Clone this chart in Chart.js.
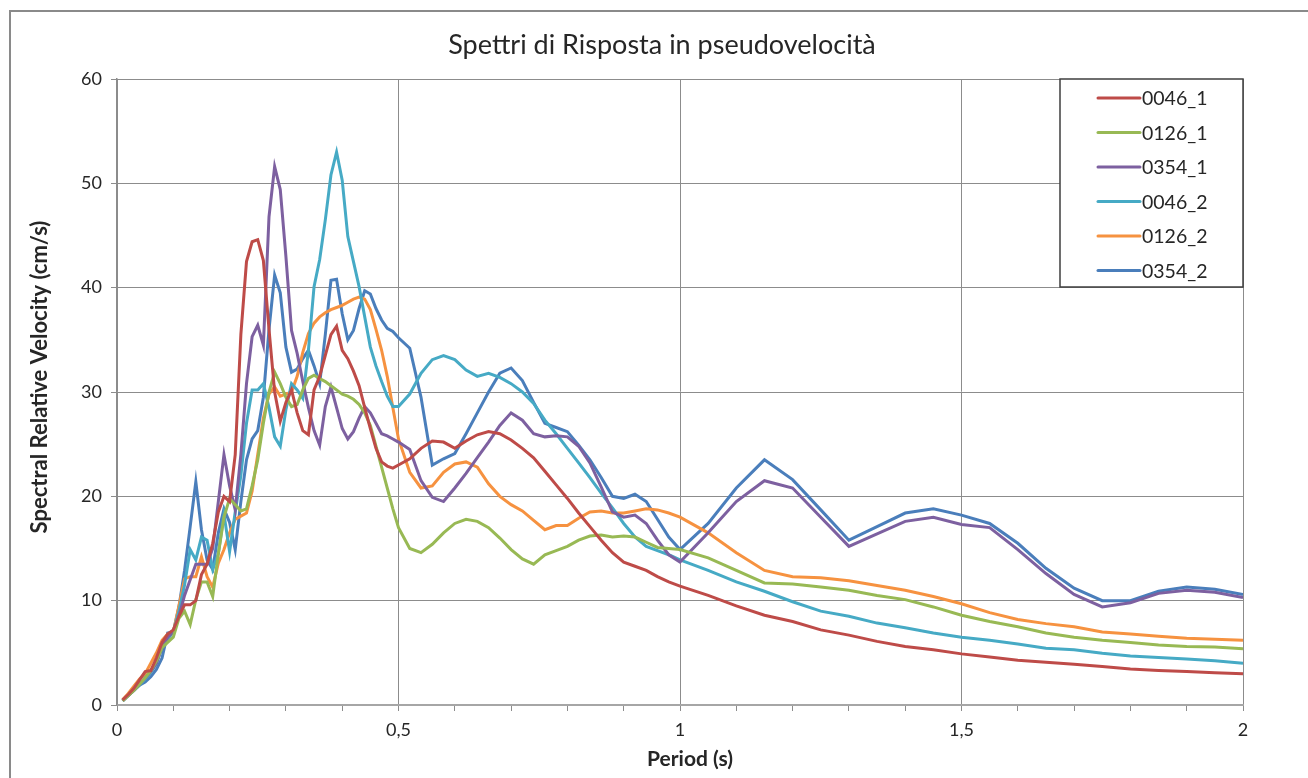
<!DOCTYPE html>
<html>
<head>
<meta charset="utf-8">
<title>Spettri di Risposta in pseudovelocità</title>
<script src="https://cdn.jsdelivr.net/npm/chart.js@4.4.1/dist/chart.umd.min.js"></script>
<style>
  html, body { margin: 0; padding: 0; background: #ffffff; overflow: hidden; }
  #wrap { position: relative; width: 1308px; height: 778px; }
  #frame { position: absolute; left: 9px; top: 10px; width: 1400px; height: 900px;
           border: 2px solid #8a8a8a; pointer-events: none; }
  canvas { display: block; }
</style>
</head>
<body>
<div id="wrap">
  <canvas id="chart" width="1308" height="778"></canvas>
  <div id="frame"></div>
</div>
<script>
// Chart title and axis titles
const chartTitle = 'Spettri di Risposta in pseudovelocità';
const xTitle = 'Period (s)';
const yTitle = 'Spectral Relative Velocity (cm/s)';

// Periods (s)
const periods = [
  0.01, 0.02, 0.03, 0.04, 0.05, 0.06, 0.07, 0.08, 0.09, 0.10,
  0.11, 0.12, 0.13, 0.14, 0.15, 0.16, 0.17, 0.18, 0.19, 0.20,
  0.21, 0.22, 0.23, 0.24, 0.25, 0.26, 0.27, 0.28, 0.29, 0.30,
  0.31, 0.32, 0.33, 0.34, 0.35, 0.36, 0.37, 0.38, 0.39, 0.40,
  0.41, 0.42, 0.43, 0.44, 0.45, 0.46, 0.47, 0.48, 0.49, 0.50,
  0.52, 0.54, 0.56, 0.58, 0.60, 0.62, 0.64, 0.66, 0.68, 0.70,
  0.72, 0.74, 0.76, 0.78, 0.80, 0.82, 0.84, 0.86, 0.88, 0.90,
  0.92, 0.94, 0.96, 0.98, 1.00,
  1.05, 1.10, 1.15, 1.20, 1.25, 1.30, 1.35, 1.40, 1.45, 1.50,
  1.55, 1.60, 1.65, 1.70, 1.75, 1.80, 1.85, 1.90, 1.95, 2.00
];

// Pseudo-velocity spectra (cm/s)
const sv0046_1 = [
  0.5, 1.0, 1.6, 2.4, 3.2, 3.3, 4.5, 6.0, 6.8, 7.2,
  8.5, 9.6, 9.6, 10.0, 12.5, 13.5, 15.5, 18.5, 20.0, 19.5,
  24.0, 35.5, 42.5, 44.4, 44.6, 42.6, 36.0, 30.0, 27.2, 29.0,
  30.2, 28.0, 26.3, 25.9, 30.2, 31.5, 33.5, 35.5, 36.3, 34.0,
  33.2, 32.0, 30.6, 28.5, 26.5, 24.6, 23.3, 22.9, 22.7, 23.0,
  23.6, 24.6, 25.3, 25.2, 24.6, 25.3, 25.9, 26.2, 26.0, 25.4,
  24.6, 23.7, 22.4, 21.1, 19.8, 18.4, 17.1, 15.8, 14.6, 13.7,
  13.3, 12.9, 12.3, 11.8, 11.4,
  10.5, 9.5, 8.6, 8.0, 7.2, 6.7, 6.1, 5.6, 5.3, 4.9,
  4.6, 4.3, 4.1, 3.9, 3.7, 3.45, 3.3, 3.2, 3.1, 3.0
];
const sv0126_1 = [
  0.4, 0.9, 1.4, 2.0, 2.6, 3.3, 4.2, 5.5, 6.0, 6.5,
  8.3, 9.0, 7.7, 10.1, 11.8, 11.8, 10.4, 14.5, 18.0, 19.8,
  19.2, 18.6, 18.8, 21.0, 23.5, 27.0, 30.0, 31.9, 30.8, 29.5,
  28.6, 28.8, 30.2, 31.3, 31.6, 31.3, 31.0, 30.6, 30.2, 29.8,
  29.6, 29.3, 28.8, 28.0, 26.8, 24.8, 22.8, 20.8, 18.8, 17.0,
  15.0, 14.6, 15.4, 16.5, 17.4, 17.8, 17.6, 17.0, 16.0, 14.9,
  14.0, 13.5, 14.4, 14.8, 15.2, 15.8, 16.2, 16.3, 16.1, 16.2,
  16.1, 15.6, 15.1, 15.0, 14.9,
  14.1, 12.9, 11.7, 11.6, 11.3, 11.0, 10.5, 10.1, 9.4, 8.6,
  8.0, 7.5, 6.9, 6.5, 6.2, 6.0, 5.75, 5.6, 5.55, 5.4
];
const sv0354_1 = [
  0.4, 0.9, 1.4, 2.0, 2.6, 3.2, 4.0, 5.5, 6.5, 7.0,
  8.5, 10.5, 12.0, 13.5, 13.5, 13.5, 15.0, 19.5, 24.0, 21.0,
  18.7, 24.0, 30.8, 35.3, 36.4, 34.5, 46.8, 51.6, 49.4, 43.0,
  35.9, 33.7, 31.0, 28.5, 26.3, 24.9, 28.6, 30.5, 28.5, 26.5,
  25.5, 26.2, 27.5, 28.6, 28.0, 27.0, 26.0, 25.8, 25.5, 25.2,
  24.5, 21.5, 19.9, 19.5, 20.8, 22.2, 23.7, 25.2, 26.8, 28.0,
  27.3, 26.0, 25.7, 25.8, 25.7, 24.8, 23.2, 20.9, 18.5, 18.0,
  18.2, 17.4, 15.8, 14.4, 13.7,
  16.5, 19.5, 21.5, 20.8, 18.0, 15.2, 16.4, 17.6, 18.0, 17.3,
  17.0, 14.9, 12.6, 10.6, 9.4, 9.8, 10.7, 11.0, 10.8, 10.3
];
const sv0046_2 = [
  0.4, 0.9, 1.4, 1.9, 2.5, 3.1, 4.0, 5.5, 6.3, 7.0,
  9.0, 11.5, 14.9, 13.9, 16.1, 15.8, 13.0, 14.5, 18.3, 14.7,
  18.5, 22.0, 27.0, 30.2, 30.2, 30.8, 28.5, 25.7, 24.8, 28.3,
  30.8, 30.2, 29.4, 34.0, 40.1, 42.7, 46.5, 50.8, 53.0, 50.3,
  44.9, 42.5, 40.1, 37.2, 34.3, 32.5, 31.0, 29.6, 28.6, 28.6,
  29.8, 31.8, 33.1, 33.5, 33.1, 32.1, 31.5, 31.8, 31.4, 30.8,
  30.0, 28.9, 27.3, 26.0, 24.6, 23.2, 21.8, 20.3, 18.9, 17.4,
  16.1, 15.2, 14.8, 14.4, 13.9,
  12.9, 11.8, 10.9, 9.9, 9.0, 8.5, 7.85, 7.4, 6.9, 6.5,
  6.2, 5.85, 5.45, 5.3, 4.95, 4.7, 4.55, 4.4, 4.25, 4.0
];
const sv0126_2 = [
  0.5, 1.1, 1.8, 2.5, 3.0, 4.0, 5.0, 6.2, 6.8, 7.0,
  9.5, 12.1, 12.3, 12.3, 14.2, 12.3, 11.3, 13.6, 14.9, 16.5,
  17.8, 18.1, 18.4, 20.5, 24.0, 27.5, 29.8, 30.5, 29.6, 29.8,
  30.0, 31.5, 33.8, 35.6, 36.6, 37.2, 37.6, 37.9, 38.1, 38.3,
  38.6, 38.9, 39.1, 38.9, 37.9, 36.0, 34.0, 31.5, 28.5, 25.5,
  22.3, 20.8, 21.0, 22.3, 23.1, 23.3, 22.8, 21.2, 20.0, 19.2,
  18.6, 17.7, 16.8, 17.2, 17.2, 17.9, 18.5, 18.6, 18.4, 18.4,
  18.6, 18.8, 18.7, 18.4, 18.0,
  16.5, 14.6, 12.9, 12.3, 12.2, 11.9, 11.45, 11.0, 10.4, 9.7,
  8.85, 8.2, 7.8, 7.5, 7.0, 6.8, 6.6, 6.4, 6.3, 6.2
];
const sv0354_2 = [
  0.4, 1.0, 1.4, 1.9, 2.2, 2.7, 3.4, 4.5, 6.9, 7.0,
  9.4, 12.9, 17.1, 21.4, 16.8, 13.9, 13.0, 16.5, 18.8, 17.5,
  14.9, 19.5, 23.5, 25.5, 26.3, 29.5, 36.0, 41.2, 39.5, 34.3,
  31.9, 32.2, 33.2, 34.0, 32.5, 30.8, 35.5, 40.7, 40.8, 37.5,
  35.0, 35.9, 38.0, 39.7, 39.4, 38.0, 36.9, 36.1, 35.8, 35.2,
  34.2, 29.5, 23.0, 23.6, 24.1, 26.0, 28.0, 30.0, 31.8, 32.3,
  31.1, 29.0, 27.0, 26.6, 26.2, 24.9, 23.5, 21.8, 20.0, 19.8,
  20.2, 19.5, 17.8, 16.1, 14.9,
  17.4, 20.8, 23.5, 21.6, 18.7, 15.8, 17.1, 18.4, 18.8, 18.2,
  17.4, 15.5, 13.1, 11.2, 10.0, 10.0, 10.9, 11.3, 11.1, 10.6
];

const seriesNames = ['0046_1', '0126_1', '0354_1', '0046_2', '0126_2', '0354_2'];
const seriesValues = [sv0046_1, sv0126_1, sv0354_1, sv0046_2, sv0126_2, sv0354_2];
const seriesColors = ['#BE4B48', '#98B954', '#7D60A0', '#46AAC5', '#F69240', '#4A7EBB'];

const yTicks = [0, 10, 20, 30, 40, 50, 60];

const FONT = "Lato, 'Open Sans', 'Liberation Sans', sans-serif";
const TEXT = '#262626';
const GRID = '#8c8c8c';

const datasets = seriesNames.map((name, i) => ({
  label: name,
  data: periods.map((t, k) => ({ x: t, y: seriesValues[i][k] })),
  borderColor: seriesColors[i],
  backgroundColor: seriesColors[i],
  borderWidth: 3,
  pointRadius: 0,
  pointHoverRadius: 0,
  tension: 0,
  fill: false
}));

const isHalf = v => Math.abs(v * 2 - Math.round(v * 2)) < 1e-6;

// Chart title and axis titles, placed around the plot area
const titlesPlugin = {
  id: 'titlesText',
  afterDraw(chart) {
    const ctx = chart.ctx;
    ctx.save();
    ctx.fillStyle = TEXT;
    ctx.textAlign = 'center';
    ctx.textBaseline = 'middle';
    ctx.font = `27px ${FONT}`;
    ctx.fillText(chartTitle, 662, 45);
    ctx.font = `bold 21px ${FONT}`;
    ctx.fillText(xTitle, 690, 759);
    ctx.translate(40, 377);
    ctx.rotate(-Math.PI / 2);
    ctx.font = `bold 22px ${FONT}`;
    ctx.fillText(yTitle, 0, 0);
    ctx.restore();
  }
};

// Boxed legend in the upper-right corner of the plot area
const boxLegendPlugin = {
  id: 'boxLegend',
  afterDatasetsDraw(chart) {
    const ctx = chart.ctx;
    const area = chart.chartArea;
    const right = area.right;
    const left = right - 183;
    const top = area.top;
    const bottom = top + 208;
    ctx.save();
    ctx.fillStyle = '#ffffff';
    ctx.fillRect(left, top, right - left, bottom - top);
    ctx.strokeStyle = '#3f3f3f';
    ctx.lineWidth = 1.5;
    ctx.strokeRect(left, top, right - left, bottom - top);
    ctx.font = `19.5px ${FONT}`;
    ctx.textBaseline = 'middle';
    ctx.textAlign = 'left';
    chart.data.datasets.forEach((ds, i) => {
      const y = top + 19 + i * 34.5;
      ctx.strokeStyle = ds.borderColor;
      ctx.lineWidth = 3;
      ctx.lineCap = 'round';
      ctx.beginPath();
      ctx.moveTo(left + 38, y);
      ctx.lineTo(left + 80, y);
      ctx.stroke();
      ctx.fillStyle = TEXT;
      ctx.fillText(ds.label, left + 82, y + 1);
    });
    ctx.restore();
  }
};

new Chart(document.getElementById('chart'), {
  type: 'line',
  data: { datasets },
  plugins: [titlesPlugin, boxLegendPlugin],
  options: {
    responsive: false,
    animation: false,
    layout: { padding: { top: 79, right: 65, left: 0, bottom: 0 } },
    plugins: {
      legend: { display: false },
      title: { display: false },
      tooltip: { enabled: false }
    },
    scales: {
      x: {
        type: 'linear',
        min: 0,
        max: 2,
        afterFit(scale) { scale.height = 73; },
        afterBuildTicks(scale) {
          scale.ticks = Array.from({ length: 21 }, (_, k) => ({ value: k / 10 }));
        },
        ticks: {
          autoSkip: false,
          maxRotation: 0,
          padding: 8,
          color: TEXT,
          font: { family: FONT, size: 18 },
          callback: v => isHalf(v) ? String(Math.round(v * 2) / 2).replace('.', ',') : ''
        },
        grid: {
          drawOnChartArea: true,
          color: ctx => (ctx.tick && isHalf(ctx.tick.value)) ? GRID : 'rgba(0,0,0,0)',
          tickColor: GRID,
          tickLength: 6,
          lineWidth: 1
        },
        border: { display: true, color: '#a6a6a6', width: 2 },
        title: { display: false }
      },
      y: {
        min: 0,
        max: 60,
        afterFit(scale) { scale.width = 117; },
        afterBuildTicks(scale) {
          scale.ticks = yTicks.map(v => ({ value: v }));
        },
        ticks: {
          padding: 9,
          color: TEXT,
          font: { family: FONT, size: 18 }
        },
        grid: {
          color: GRID,
          tickColor: GRID,
          tickLength: 6,
          lineWidth: 1
        },
        border: { display: true, color: GRID, width: 1.5 },
        title: { display: false }
      }
    }
  }
});
</script>
</body>
</html>
